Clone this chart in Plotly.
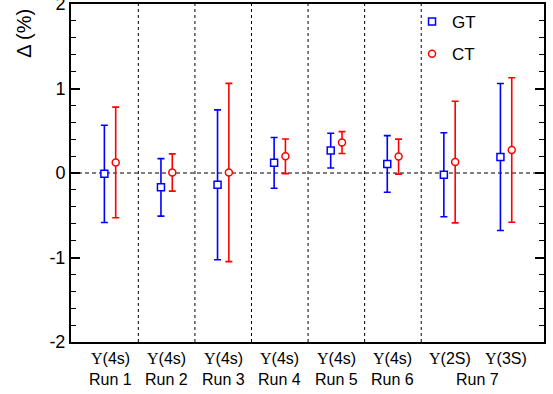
import plotly.graph_objects as go

# Category labels (first line) and run labels (second line)
states = ["4s", "4s", "4s", "4s", "4s", "4s", "2S", "3S"]
runs = ["Run 1", "Run 2", "Run 3", "Run 4", "Run 5", "Run 6", "Run 7"]
run_pos = [0, 1, 2, 3, 4, 5, 6.5]

# Relative differences (%) with their uncertainties
gt_val = [-0.01, -0.17, -0.14, 0.12, 0.265, 0.107, -0.02, 0.19]
gt_err = [0.575, 0.34, 0.887, 0.30, 0.205, 0.335, 0.497, 0.87]
ct_val = [0.125, 0.006, 0.006, 0.198, 0.36, 0.194, 0.13, 0.272]
ct_err = [0.655, 0.22, 1.055, 0.205, 0.13, 0.207, 0.72, 0.855]

# y-axis tick labels
y_ticks = [-2, -1, 0, 1, 2]
y_ticktext = ["-2", "-1", "0", "1", "2"]

idx = list(range(len(states)))
offset = 0.1
FONT = "Liberation Sans, Arial, sans-serif"

fig = go.Figure()

fig.add_trace(go.Scatter(
    x=[i - offset for i in idx], y=gt_val, mode="markers", name="GT",
    marker=dict(symbol="square", size=7, color="white",
                line=dict(color="#0000ff", width=1.5)),
    error_y=dict(type="data", array=gt_err, visible=True,
                 color="#0000ff", thickness=1.6, width=3.5),
    legendgroup="gt",
))
fig.add_trace(go.Scatter(
    x=[i + offset for i in idx], y=ct_val, mode="markers", name="CT",
    marker=dict(symbol="circle", size=7, color="white",
                line=dict(color="#ff0000", width=1.5)),
    error_y=dict(type="data", array=ct_err, visible=True,
                 color="#ff0000", thickness=1.6, width=3.5),
    legendgroup="ct",
))

shapes = []
# dotted separators between runs
for b in [0.5, 1.5, 2.5, 3.5, 4.5, 5.5]:
    shapes.append(dict(type="line", xref="x", yref="paper", x0=b, x1=b, y0=0, y1=1,
                       line=dict(color="black", width=1, dash="dot"), layer="below"))
# dashed zero reference
shapes.append(dict(type="line", xref="paper", yref="y", x0=0, x1=1, y0=0, y1=0,
                   line=dict(color="#555555", width=1.5, dash="4px,3px"), layer="below"))

annotations = []
for i, s in enumerate(states):
    annotations.append(dict(
        x=i, y=0, xref="x", yref="paper", yanchor="middle", yshift=-16,
        text=f"<span style=\"font-family:'Liberation Serif', serif\">Υ</span>({s})",
        showarrow=False, font=dict(family=FONT, size=16, color="black")))
for p, r in zip(run_pos, runs):
    annotations.append(dict(
        x=p, y=0, xref="x", yref="paper", yanchor="middle", yshift=-37,
        text=r, showarrow=False, font=dict(family=FONT, size=16, color="black")))
# y-axis title at the top of the axis
annotations.append(dict(
    x=-0.1, y=1, xref="paper", yref="paper", yshift=-29,
    xanchor="center", yanchor="middle", textangle=-90,
    text="Δ (%)", showarrow=False, font=dict(family=FONT, size=20, color="black")))

fig.update_layout(
    width=553, height=394,
    margin=dict(l=71, r=9, t=4, b=52, autoexpand=False),
    paper_bgcolor="white", plot_bgcolor="white",
    font=dict(family=FONT, size=17, color="black"),
    showlegend=True,
    legend=dict(x=0.721, y=1.0, xanchor="left", yanchor="top",
                bgcolor="rgba(0,0,0,0)", font=dict(size=17),
                tracegroupgap=7, traceorder="grouped"),
    shapes=shapes, annotations=annotations,
    xaxis=dict(range=[-0.69, 7.67], showticklabels=False, ticks="",
               showgrid=False, zeroline=False, showline=True, automargin=False,
               linecolor="black", linewidth=2, mirror=True),
    yaxis=dict(range=[-2, 2], tickvals=y_ticks, ticktext=y_ticktext,
               ticks="inside", ticklen=9, tickwidth=1.5, tickcolor="black",
               ticklabeloverflow="allow", automargin=False,
               minor=dict(dtick=0.2, ticks="inside", ticklen=5, tickwidth=1.2,
                          tickcolor="black", showgrid=False),
               showgrid=False, zeroline=False, showline=True,
               linecolor="black", linewidth=2, mirror="ticks",
               tickfont=dict(size=18)),
)

fig.write_html("out.html")
